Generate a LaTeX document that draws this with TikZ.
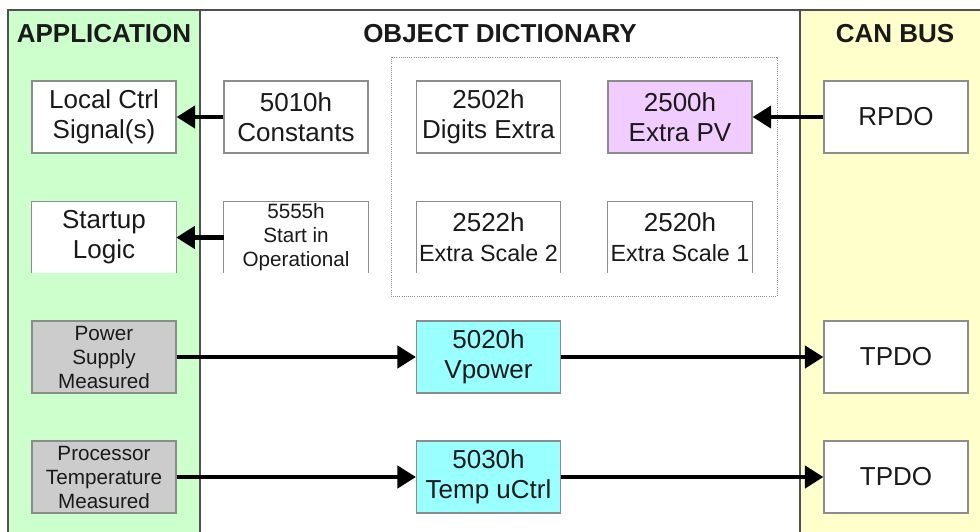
\documentclass[tikz,border=0pt]{standalone}
\usepackage{fontspec}
\setmainfont{Liberation Sans}
\usetikzlibrary{arrows.meta}
\definecolor{appgreen}{HTML}{CCFFCC}
\definecolor{canyellow}{HTML}{FFFFCC}
\definecolor{pvpurple}{HTML}{F0CCFF}
\definecolor{odcyan}{HTML}{99FFFF}
\definecolor{measgray}{HTML}{CCCCCC}
\definecolor{boxline}{HTML}{8C8C8C}
\definecolor{colline}{HTML}{505050}
\definecolor{txt}{HTML}{1A1A1A}
\tikzset{
  bigtxt/.style={font=\fontsize{19.5}{22.5}\selectfont},
  smalltxt/.style={font=\fontsize{15.5}{18}\selectfont},
  title/.style={font=\fontsize{19.5}{22.5}\selectfont\bfseries, text=txt},
  box/.style={draw=boxline, line width=0.8pt, fill=white, align=center, text=txt,
    minimum width=108pt, minimum height=54pt, inner sep=0pt},
  openbox/.style={fill=white, align=center, text=txt,
    minimum width=108pt, minimum height=53pt, inner sep=0pt},
  openedge/.style={draw=boxline, line width=0.8pt},
  conn/.style={line width=3.5pt, -{Triangle[length=14pt,width=16.5pt]}, shorten >=0pt},
}
\begin{document}
\begin{tikzpicture}[x=0.75pt,y=-0.75pt]
\useasboundingbox (0,0) rectangle (980,531);
% columns
\fill[appgreen] (8,10) rectangle (200,545);
\fill[canyellow] (800,10) rectangle (995,545);
\draw[colline, line width=0.8pt] (8,545) -- (8,10) -- (995,10);
\draw[colline, line width=0.8pt] (200,10) -- (200,545);
\draw[colline, line width=0.8pt] (800,10) -- (800,545);
% titles
\node[title] (tapp) at (104,34) {APPLICATION};
\node[title] (tod) at (500,34) {OBJECT DICTIONARY};
\node[title] (tcan) at (895,34) {CAN BUS};
% dotted group
\draw[boxline, densely dotted, line width=0.6pt] (391,57) rectangle (777,296);
% row 1
\node[box, bigtxt] (loc) at (104,117) {Local Ctrl\\Signal(s)};
\node[box, bigtxt] (c5010) at (296,117) {5010h\\Constants};
\node[box, bigtxt] (d2502) at (488.5,117) {2502h\\Digits Extra};
\node[box, bigtxt, fill=pvpurple] (pv) at (680,117) {2500h\\Extra PV};
\node[box, bigtxt] (rpdo) at (896,117) {RPDO};
% row 2 (open bottom boxes)
\node[openbox, bigtxt] (start) at (104,237.5) {Startup\\Logic};
\node[openbox, smalltxt] (c5555) at (296,237.5) {5555h\\Start in\\Operational};
\node[openbox, bigtxt] (d2522) at (488.5,237.5) {2522h\\{\fontsize{17.5}{20}\selectfont Extra Scale 2}};
\node[openbox, bigtxt] (d2520) at (680,237.5) {2520h\\{\fontsize{17.5}{20}\selectfont Extra Scale 1}};
\foreach \n in {start,c5555,d2522,d2520}{
  \draw[openedge] (\n.south west) -- (\n.north west) -- (\n.north east) -- (\n.south east);
}
% row 3
\node[box, smalltxt, fill=measgray] (pow) at (104,357) {Power\\Supply\\Measured};
\node[box, bigtxt, fill=odcyan] (v5020) at (488.5,357) {5020h\\Vpower};
\node[box, bigtxt] (tpdo1) at (896,357) {TPDO};
% row 4
\node[box, smalltxt, fill=measgray] (proc) at (104,477) {Processor\\Temperature\\Measured};
\node[box, bigtxt, fill=odcyan] (t5030) at (488.5,477) {5030h\\Temp uCtrl};
\node[box, bigtxt] (tpdo2) at (896,477) {TPDO};
% connectors
\draw[conn] (c5010.west) -- (loc.east);
\draw[conn] (c5555.west) -- (start.east);
\draw[conn] (rpdo.west) -- (pv.east);
\draw[conn] (pow.east) -- (v5020.west);
\draw[conn] (v5020.east) -- (tpdo1.west);
\draw[conn] (proc.east) -- (t5030.west);
\draw[conn] (t5030.east) -- (tpdo2.west);
\end{tikzpicture}
\end{document}
